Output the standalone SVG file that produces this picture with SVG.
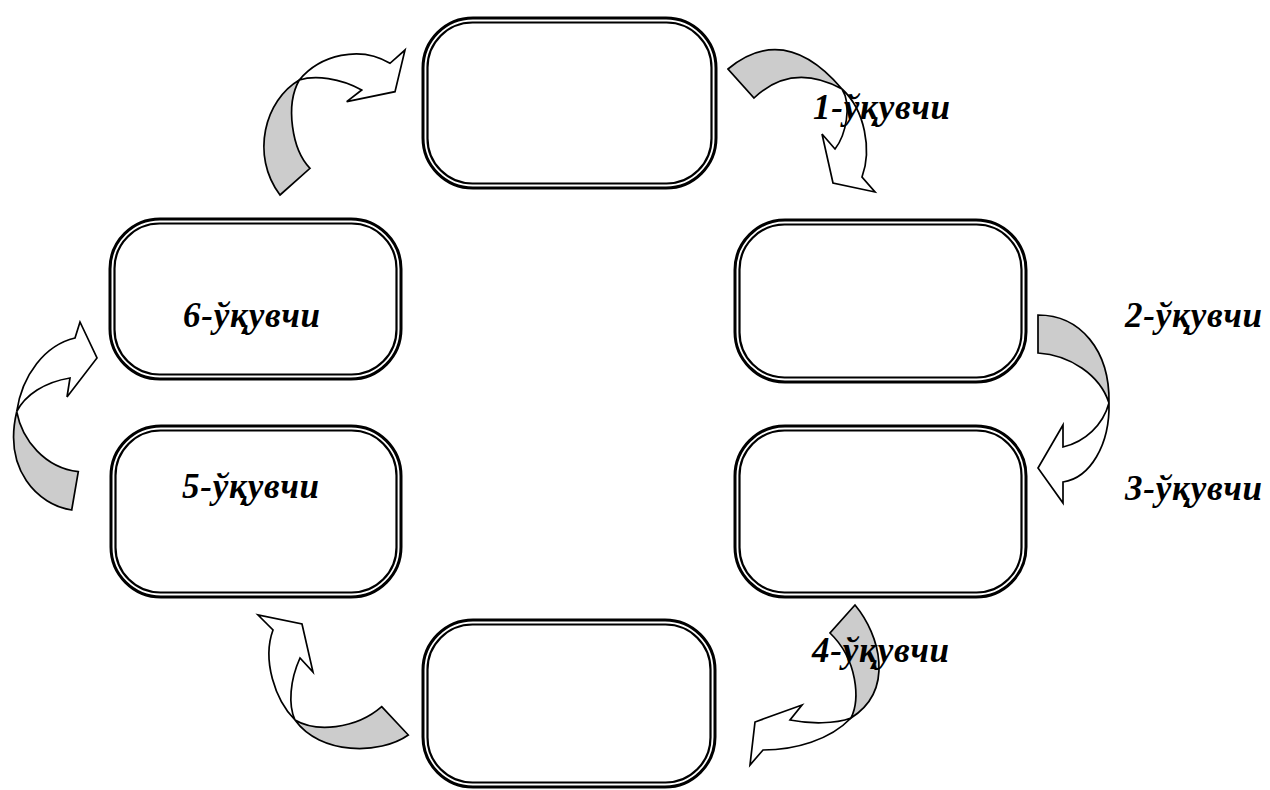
<svg xmlns="http://www.w3.org/2000/svg" width="1270" height="790" viewBox="0 0 1270 790">
<style>
.o{fill:#fff;stroke:#000;stroke-width:3}
.i{fill:none;stroke:#000;stroke-width:2.2}
.g{fill:#cccccc;stroke:#000;stroke-width:1.7;stroke-linejoin:miter}
.w{fill:#fff;stroke:#000;stroke-width:1.7;stroke-linejoin:miter}
.t{font-family:"Liberation Serif","Times New Roman",serif;font-weight:bold;font-style:italic;font-size:35px;letter-spacing:0.8px;fill:#000}
</style>
<rect width="1270" height="790" fill="#fff"/>
<g id="node-top">
<rect class="o" x="423" y="18" width="293" height="170" rx="50"/>
<rect class="i" x="427.5" y="22.5" width="284" height="161" rx="45"/>
</g>
<g id="node-right-upper">
<rect class="o" x="735" y="220" width="291" height="162" rx="50"/>
<rect class="i" x="739.5" y="224.5" width="282" height="153" rx="45"/>
</g>
<g id="node-right-lower">
<rect class="o" x="735" y="426" width="291" height="171" rx="50"/>
<rect class="i" x="739.5" y="430.5" width="282" height="162" rx="45"/>
</g>
<g id="node-bottom">
<rect class="o" x="423" y="620" width="292" height="167" rx="50"/>
<rect class="i" x="427.5" y="624.5" width="283" height="158" rx="45"/>
</g>
<g id="node-5">
<rect class="o" x="111" y="426" width="290" height="171" rx="50"/>
<rect class="i" x="115.5" y="430.5" width="281" height="162" rx="45"/>
<text class="t" x="182" y="498">5-ўқувчи</text>
</g>
<g id="node-6">
<rect class="o" x="110" y="219" width="291" height="160" rx="50"/>
<rect class="i" x="114.5" y="223.5" width="282" height="151" rx="45"/>
<text class="t" x="183" y="327">6-ўқувчи</text>
</g>
<g id="connectors">
<g id="arrow-1">
<path class="g" d="M728,69 Q785,22 842,89 Q792,62 754,98 Z"/>
<path class="w" d="M842,89 C865,110 872,150 862,177 L875,192 L833,183 L822,134 L835,149 C846,135 852,105 842,89 Z"/>
</g>
<g id="arrow-2">
<path class="g" d="M1038,315 C1080,315 1110,350 1109,403 C1100,375 1070,355 1038,353 Z"/>
<path class="w" d="M1109,403 C1110,445 1090,478 1063,482 L1063,503 L1038,468 L1063,425 L1063,447 C1085,442 1103,425 1109,403 Z"/>
</g>
<g id="arrow-3">
<path class="g" d="M855,605 C880,635 895,690 851,718 C860,700 858,660 830,633 Z"/>
<path class="w" d="M851,718 C830,740 795,750 763,750 L750,765 L755,722 L802,705 L790,720 C810,724 835,724 851,718 Z"/>
</g>
<g id="arrow-4">
<path class="g" d="M381.7,706.7 L408.3,735 C380,755 320,755 295,720 C315,732 355,730 381.7,706.7 Z"/>
<path class="w" d="M295,720 C275,700 262,660 273,630 L258,615 L302,624 L313,672 L300,658 C290,680 288,705 295,720 Z"/>
</g>
<g id="arrow-5">
<path class="g" d="M78.3,471.7 L71.7,510 C38,505 3,470 16.7,411.7 C22,440 45,468 78.3,471.7 Z"/>
<path class="w" d="M16.7,411.7 C22,375 45,345 75,338 L80,322 L97,358 L67,397 L70,378 C45,382 25,395 16.7,411.7 Z"/>
</g>
<g id="arrow-6">
<path class="g" d="M280,195 L310,168.3 C292,150 285,105 299.3,80 C265,100 250,155 280,195 Z"/>
<path class="w" d="M299.3,80 C320,55 360,45 390,63.3 L405,50 L395,91.7 L346.7,101.7 L361.7,90 C340,78 315,75 299.3,80 Z"/>
</g>
</g>
<g id="labels">
<text class="t" x="813" y="119">1-ўқувчи</text>
<text class="t" x="1125" y="327">2-ўқувчи</text>
<text class="t" x="1125" y="500">3-ўқувчи</text>
<text class="t" x="812" y="662">4-ўқувчи</text>
</g>
</svg>
